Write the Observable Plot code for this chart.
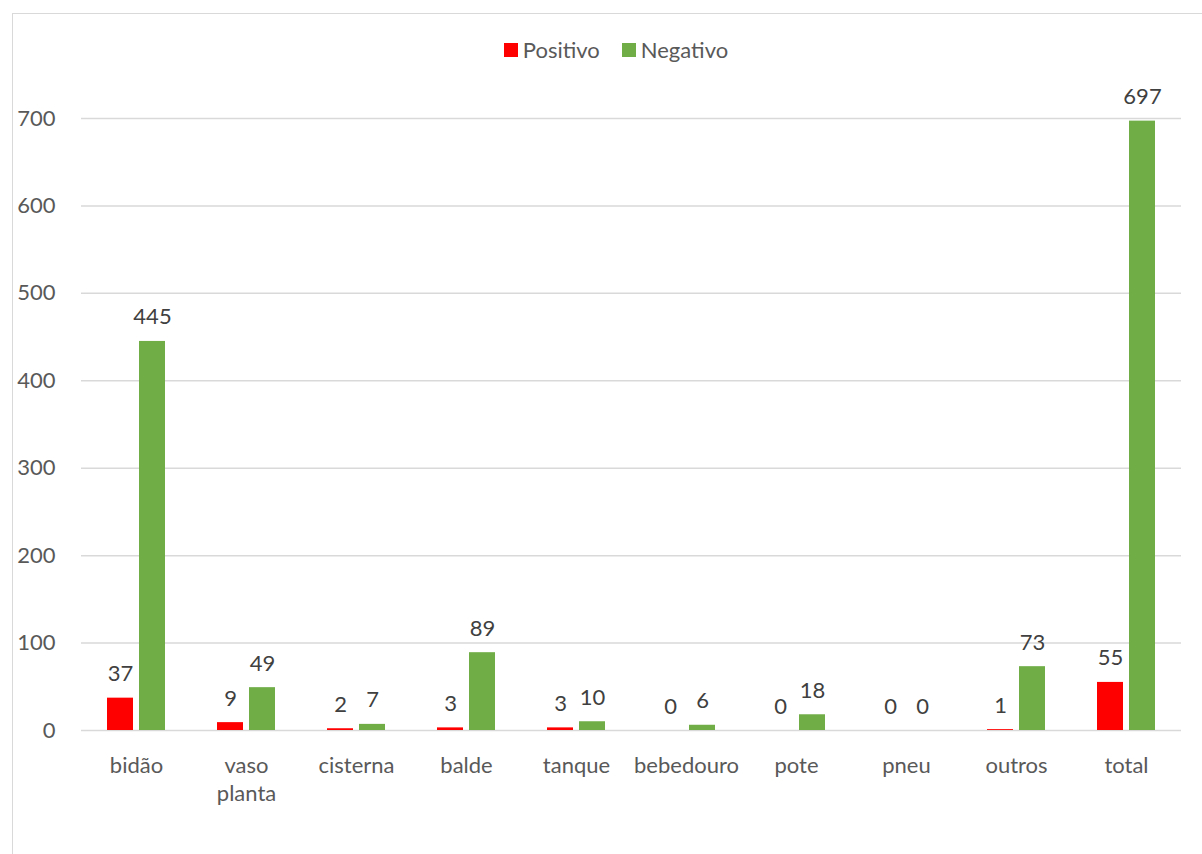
<!DOCTYPE html>
<html>
<head>
<meta charset="utf-8">
<script src="https://cdn.jsdelivr.net/npm/d3@7"></script>
<script src="https://cdn.jsdelivr.net/npm/@observablehq/plot@0.6"></script>
<style>
  html, body { margin: 0; padding: 0; background: #fff; }
  #wrap { position: relative; width: 1202px; height: 854px; overflow: hidden; font-family: Lato, "Open Sans", sans-serif; }
  #frame { position: absolute; left: 12px; top: 13px; width: 1300px; height: 900px;
           border-left: 1.5px solid #d9d9d9; border-top: 1.5px solid #d9d9d9; box-sizing: border-box; }
  #legend { position: absolute; left: 0; top: 36px; width: 1202px; display: flex; justify-content: center;
            gap: 22px; font-size: 22px; color: #595959; padding-left: 30px; box-sizing: border-box; }
  #legend .item { display: flex; align-items: center; gap: 5px; }
  #legend .sw { width: 14px; height: 14px; display: inline-block; }
  #chart { position: absolute; left: 0; top: 0; }
</style>
</head>
<body>
<div id="wrap">
  <div id="frame"></div>
  <div id="chart"></div>
  <div id="legend"></div>
</div>
<script>
// Container types and counts of positive / negative inspections
const categories = ["bidão", "vaso planta", "cisterna", "balde", "tanque", "bebedouro", "pote", "pneu", "outros", "total"];
const categoryLabels = ["bidão", "vaso\nplanta", "cisterna", "balde", "tanque", "bebedouro", "pote", "pneu", "outros", "total"];
const positivo = [37, 9, 2, 3, 3, 0, 0, 0, 1, 55];
const negativo = [445, 49, 7, 89, 10, 6, 18, 0, 73, 697];
const series = ["Positivo", "Negativo"];
const seriesColors = ["#ff0000", "#70ad47"];
const yTicks = [0, 100, 200, 300, 400, 500, 600, 700];

const rows = categories.flatMap((c, i) => [
  {category: c, series: series[0], value: positivo[i]},
  {category: c, series: series[1], value: negativo[i]}
]);

const chart = Plot.plot({
  width: 1202,
  height: 854,
  marginTop: 118,
  marginBottom: 124,
  marginLeft: 79,
  marginRight: 19,
  style: {fontFamily: "Lato, 'Open Sans', sans-serif", fontSize: "22px", color: "#595959", background: "transparent"},
  fx: {domain: categories, padding: 0},
  x: {domain: series, paddingInner: 0.2, paddingOuter: 0.78, axis: null},
  y: {domain: [0, 700]},
  color: {domain: series, range: seriesColors},
  marks: [
    Plot.gridY(yTicks, {stroke: "#d9d9d9", strokeOpacity: 1, strokeWidth: 1.5}),
    Plot.axisY({ticks: yTicks, tickSize: 0, tickPadding: 26, label: null, fontSize: 22}),
    Plot.axisFx({anchor: "bottom", tickSize: 0, tickPadding: 22, label: null, fontSize: 22, lineHeight: 1.3,
      tickFormat: d => categoryLabels[categories.indexOf(d)]}),
    Plot.barY(rows, {fx: "category", x: "series", y: "value", fill: "series"}),
    Plot.text(rows, {fx: "category", x: "series", y: "value", text: d => String(d.value),
      lineAnchor: "bottom", dy: -17, fill: "#404040", fontSize: 22})
  ]
});
document.getElementById("chart").appendChild(chart);

const legend = document.getElementById("legend");
series.forEach((s, i) => {
  const item = document.createElement("span");
  item.className = "item";
  const sw = document.createElement("span");
  sw.className = "sw";
  sw.style.background = seriesColors[i];
  const label = document.createElement("span");
  label.textContent = s;
  item.appendChild(sw);
  item.appendChild(label);
  legend.appendChild(item);
});
</script>
</body>
</html>
